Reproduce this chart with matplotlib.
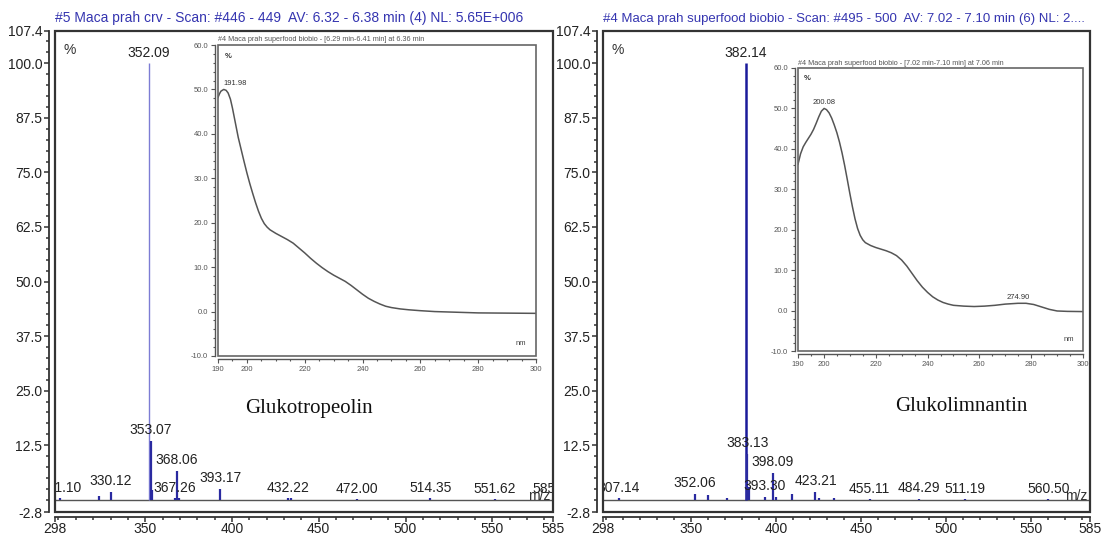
import matplotlib
matplotlib.use("Agg")
import matplotlib.pyplot as plt
from matplotlib.patches import Rectangle
import numpy as np

plt.rcParams['font.family'] = ['Liberation Sans', 'DejaVu Sans']

# ---------------- data ----------------
left_title = "#5 Maca prah crv - Scan: #446 - 449  AV: 6.32 - 6.38 min (4) NL: 5.65E+006"
right_title = "#4 Maca prah superfood biobio - Scan: #495 - 500  AV: 7.02 - 7.10 min (6) NL: 2...."

left_mz = [301.10, 323.5, 330.12, 352.09, 353.07, 354.07, 367.26, 368.06, 369.5,
           393.17, 432.22, 434.0, 472.00, 514.35, 551.62, 585.30]
left_int = [0.3, 0.8, 1.8, 100.0, 13.5, 2.2, 0.4, 6.6, 0.4,
            2.5, 0.4, 0.4, 0.1, 0.3, 0.1, 0.1]
left_labels = ["301.10", "330.12", "352.09", "353.07", "367.26", "368.06", "393.17",
               "432.22", "472.00", "514.35", "551.62", "585.30"]

right_mz = [307.14, 352.06, 360.1, 371.0, 382.14, 383.13, 384.1, 393.30, 398.09,
            400.1, 409.1, 423.21, 425.1, 434.2, 455.11, 484.29, 511.19, 560.50]
right_int = [0.4, 1.4, 1.0, 0.4, 100.0, 10.5, 3.0, 0.7, 6.2,
             0.6, 1.3, 1.8, 0.5, 0.3, 0.1, 0.2, 0.1, 0.1]
right_labels = ["307.14", "352.06", "382.14", "383.13", "393.30", "398.09", "423.21",
                "455.11", "484.29", "511.19", "560.50"]

left_compound = "Glukotropeolin"
right_compound = "Glukolimnantin"

# UV inset spectra
left_uv_title = "#4 Maca prah superfood biobio - [6.29 min-6.41 min] at 6.36 min"
left_uv_nm = [190.0, 190.5, 191.0, 191.98, 192.8, 193.5, 194.3, 195.0, 196.0, 197.0,
              198.0, 199.0, 200.0, 201.0, 202.0, 203.0, 204.0, 205.0, 206.0, 207.0,
              208.0, 210.0, 212.0, 214.0, 216.0, 218.0, 220.0, 222.0, 224.0, 226.0,
              228.0, 230.0, 232.0, 234.0, 236.0, 238.0, 240.0, 242.0, 244.0, 246.0,
              248.0, 250.0, 253.0, 256.0, 260.0, 265.0, 270.0, 280.0, 290.0, 300.0]
left_uv_abs = [48.2, 49.0, 49.6, 50.0, 49.8, 49.2, 47.8, 45.8, 42.5, 39.2,
               36.5, 33.8, 31.2, 28.8, 26.6, 24.5, 22.6, 21.0, 19.8, 19.0,
               18.4, 17.6, 16.9, 16.2, 15.4, 14.3, 13.2, 12.0, 10.9, 9.9,
               9.0, 8.2, 7.5, 6.8, 5.9, 4.9, 3.9, 3.0, 2.3, 1.7,
               1.2, 0.9, 0.6, 0.4, 0.2, 0.0, -0.1, -0.3, -0.35, -0.4]
left_uv_peaks = ["191.98"]

right_uv_title = "#4 Maca prah superfood biobio - [7.02 min-7.10 min] at 7.06 min"
right_uv_nm = [190.0, 191.0, 192.0, 193.0, 194.0, 195.0, 196.0, 197.0, 198.0, 199.0,
               200.08, 201.0, 202.0, 203.0, 204.0, 205.0, 206.0, 207.0, 208.0, 209.0,
               210.0, 211.0, 212.0, 213.0, 214.0, 215.0, 216.0, 218.0, 220.0, 222.0,
               224.0, 226.0, 228.0, 230.0, 232.0, 234.0, 236.0, 238.0, 240.0, 242.0,
               244.0, 246.0, 248.0, 250.0, 254.0, 258.0, 262.0, 266.0, 270.0, 274.9,
               278.0, 281.0, 284.0, 287.0, 290.0, 294.0, 300.0]
right_uv_abs = [36.2, 38.8, 40.5, 41.6, 42.6, 43.6, 44.8, 46.3, 47.9, 49.3,
                50.0, 49.7, 48.9, 47.6, 45.9, 44.0, 41.7, 39.0, 35.9, 32.5,
                29.0, 25.7, 22.7, 20.3, 18.6, 17.5, 16.8, 16.1, 15.6, 15.2,
                14.8, 14.3, 13.6, 12.5, 11.0, 9.2, 7.4, 5.8, 4.5, 3.4,
                2.6, 2.0, 1.6, 1.3, 1.1, 1.0, 1.1, 1.3, 1.6, 1.8,
                1.8, 1.5, 0.9, 0.3, -0.1, -0.2, -0.25]
right_uv_peaks = ["200.08", "274.90"]

# ---------------- figure ----------------
W, H = 1102, 537
fig = plt.figure(figsize=(W / 100, H / 100), dpi=100)

def px_axes(x0, y0, x1, y1):
    return fig.add_axes([x0 / W, (H - y1) / H, (x1 - x0) / W, (y1 - y0) / H])

blue_title = '#3535b0'
frame_col = '#333333'

def main_panel(box, title, title_size, mz, inten, labels, main_color, main_lw,
               compound, comp_xy):
    ax = px_axes(*box)
    ax.set_xlim(298, 585)
    ax.set_ylim(-2.8, 107.4)
    for m, v in zip(mz, inten):
        if v >= 50:
            ax.vlines(m, 0, v, color=main_color, lw=main_lw, zorder=3)
        else:
            ax.vlines(m, 0, v, color='#2a2aa0', lw=1.6, zorder=3)
    for lab in labels:
        m = float(lab)
        i = int(np.argmin(np.abs(np.array(mz) - m)))
        ax.annotate(lab, (m, inten[i]), xytext=(0, 2.5), textcoords='offset points',
                    ha='center', va='bottom', fontsize=10, color='#222222',
                    annotation_clip=False, clip_on=True, zorder=4)
    ax.axhline(0, color='#555555', lw=1.0, zorder=2)
    for s in ['top', 'right']:
        ax.spines[s].set_visible(False)
    ax.spines['left'].set_position(('outward', 4))
    ax.spines['bottom'].set_position(('outward', 3.5))
    for s in ['left', 'bottom']:
        ax.spines[s].set_color(frame_col)
        ax.spines[s].set_linewidth(1.3)
    ax.add_patch(Rectangle((0, 0), 1, 1, transform=ax.transAxes, fill=False,
                           ec=frame_col, lw=1.6, clip_on=False, zorder=5))
    yt = [-2.8, 12.5, 25.0, 37.5, 50.0, 62.5, 75.0, 87.5, 100.0, 107.4]
    ax.set_yticks(yt)
    ax.set_yticklabels([f"{v:.1f}" for v in yt])
    ax.set_yticks([v for v in np.arange(0, 107.4, 2.5) if all(abs(v - t) > 0.3 for t in yt)],
                  minor=True)
    xt = [298, 350, 400, 450, 500, 550, 585]
    ax.set_xticks(xt)
    ax.set_xticklabels([str(v) for v in xt])
    ax.set_xticks([v for v in range(300, 590, 10) if v not in xt], minor=True)
    ax.tick_params(which='major', length=3.5, width=1.1, labelsize=10, color=frame_col,
                   labelcolor='#222222', pad=1.5)
    ax.tick_params(axis='x', which='major', pad=0.5)
    ax.tick_params(which='minor', length=2, width=1.1, color=frame_col)
    ax.text(0.018, 0.975, '%', transform=ax.transAxes, ha='left', va='top',
            fontsize=10, color='#333333')
    ax.text(0.995, 0.033, 'm/z', transform=ax.transAxes, ha='right', va='center',
            fontsize=10, color='#333333')
    ax.text(0.0, 1.012, title, transform=ax.transAxes, ha='left', va='bottom',
            fontsize=title_size, color=blue_title)
    ax.text(comp_xy[0], comp_xy[1], compound, transform=ax.transAxes, ha='center',
            va='center', fontsize=15, family=['Liberation Serif', 'DejaVu Serif'],
            color='#111111')
    return ax

def inset(box, title, nm, ab, peaks):
    ax = px_axes(*box)
    ax.set_facecolor('white')
    ax.set_xlim(190, 300)
    ax.set_ylim(-10, 60)
    ax.plot(nm, ab, color='#555555', lw=1.1)
    for p in peaks:
        x = float(p)
        i = int(np.argmin(np.abs(np.array(nm) - x)))
        ax.annotate(p, (x, ab[i]), xytext=(0, 1.5), textcoords='offset points',
                    ha='left' if x < 195 else 'center', va='bottom', fontsize=5.5,
                    color='#333333')
    for s in ['top', 'right']:
        ax.spines[s].set_visible(False)
    ax.spines['left'].set_position(('outward', 2.5))
    ax.spines['bottom'].set_position(('outward', 2.5))
    for s in ['left', 'bottom']:
        ax.spines[s].set_color('#555555')
        ax.spines[s].set_linewidth(1.0)
    ax.add_patch(Rectangle((0, 0), 1, 1, transform=ax.transAxes, fill=False,
                           ec='#666666', lw=1.2, clip_on=False, zorder=5))
    ax.set_yticks(np.arange(-10, 61, 10))
    ax.set_yticklabels([f"{v:.1f}" for v in np.arange(-10, 61, 10)])
    ax.set_yticks(np.arange(-10, 61, 2), minor=True)
    ax.set_xticks([190, 200, 220, 240, 260, 280, 300])
    ax.set_xticks(np.arange(190, 301, 5), minor=True)
    ax.tick_params(which='major', length=3, width=0.8, labelsize=5.5, color='#555555',
                   labelcolor='#555555', pad=1.5)
    ax.tick_params(which='minor', length=1.5, width=0.8, color='#555555')
    ax.text(0.02, 0.975, '%', transform=ax.transAxes, ha='left', va='top',
            fontsize=5.5, color='#333333', weight='bold')
    ax.text(0.97, 0.03, 'nm', transform=ax.transAxes, ha='right', va='bottom',
            fontsize=5.5, color='#444444')
    ax.text(0.0, 1.005, title, transform=ax.transAxes, ha='left', va='bottom',
            fontsize=5.2, color='#555555')
    return ax

main_panel((55, 31, 553, 512), left_title, 10, left_mz, left_int, left_labels,
           '#7c7cd4', 1.0, left_compound, (0.51, 0.215))
main_panel((603, 31, 1090, 512), right_title, 9.5, right_mz, right_int, right_labels,
           '#1a1a9a', 1.8, right_compound, (0.735, 0.22))

inset((218, 45, 536, 356), left_uv_title, left_uv_nm, left_uv_abs, left_uv_peaks)
inset((798, 68, 1083, 351), right_uv_title, right_uv_nm, right_uv_abs, right_uv_peaks)

fig.savefig('out.png', dpi=100)
